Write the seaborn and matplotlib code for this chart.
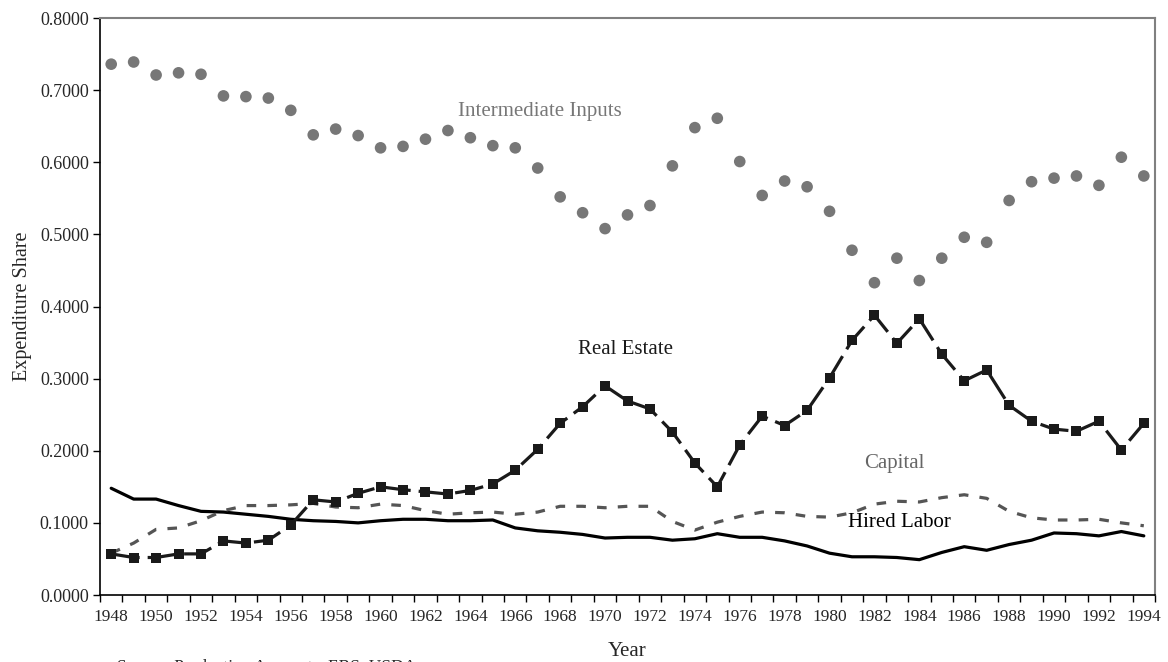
import numpy as np
import pandas as pd
import matplotlib
matplotlib.use("Agg")
import matplotlib.pyplot as plt
import seaborn as sns
from matplotlib.ticker import FixedLocator, FormatStrFormatter

years = list(range(1948, 1995))

intermediate = [0.736, 0.739, 0.721, 0.724, 0.722, 0.692, 0.691, 0.689, 0.672, 0.638,
                0.646, 0.637, 0.620, 0.622, 0.632, 0.644, 0.634, 0.623, 0.620, 0.592,
                0.552, 0.530, 0.508, 0.527, 0.540, 0.595, 0.648, 0.661, 0.601, 0.554,
                0.574, 0.566, 0.532, 0.478, 0.433, 0.467, 0.436, 0.467, 0.496, 0.489,
                0.547, 0.573, 0.578, 0.581, 0.568, 0.607, 0.581]

real_estate = [0.057, 0.052, 0.052, 0.057, 0.057, 0.075, 0.072, 0.076, 0.097, 0.132,
               0.129, 0.141, 0.150, 0.146, 0.143, 0.140, 0.145, 0.154, 0.173, 0.202,
               0.238, 0.261, 0.290, 0.269, 0.258, 0.226, 0.183, 0.150, 0.208, 0.248,
               0.235, 0.256, 0.301, 0.353, 0.388, 0.349, 0.383, 0.334, 0.297, 0.312,
               0.263, 0.241, 0.230, 0.227, 0.241, 0.201, 0.238]

capital = [0.058, 0.072, 0.091, 0.093, 0.103, 0.117, 0.124, 0.124, 0.125, 0.127,
           0.122, 0.121, 0.126, 0.124, 0.117, 0.112, 0.114, 0.115, 0.112, 0.115,
           0.123, 0.123, 0.121, 0.123, 0.123, 0.102, 0.090, 0.101, 0.109, 0.115,
           0.114, 0.109, 0.108, 0.114, 0.126, 0.130, 0.129, 0.135, 0.139, 0.134,
           0.116, 0.107, 0.104, 0.104, 0.105, 0.100, 0.096]

hired_labor = [0.148, 0.133, 0.133, 0.124, 0.116, 0.115, 0.112, 0.109, 0.105, 0.103,
               0.102, 0.100, 0.103, 0.105, 0.105, 0.103, 0.103, 0.104, 0.093, 0.089,
               0.087, 0.084, 0.079, 0.080, 0.080, 0.076, 0.078, 0.085, 0.080, 0.080,
               0.075, 0.068, 0.058, 0.053, 0.053, 0.052, 0.049, 0.059, 0.067, 0.062,
               0.070, 0.076, 0.086, 0.085, 0.082, 0.088, 0.082]

df = pd.DataFrame({"year": years, "intermediate": intermediate,
                   "real_estate": real_estate, "capital": capital,
                   "hired_labor": hired_labor})

sns.set_style("white")
plt.rcParams['font.family'] = ['Liberation Serif', 'DejaVu Serif']

fig = plt.figure(figsize=(11.68, 6.62), dpi=100)
ax = fig.add_axes([0.0856, 0.1012, 0.9033, 0.8716])

sns.lineplot(data=df, x="year", y="hired_labor", ax=ax, color="black",
             linewidth=2.3, zorder=3)
sns.lineplot(data=df, x="year", y="capital", ax=ax, color="#555555",
             linewidth=2.3, linestyle=(0, (3, 3.5)), zorder=3)
sns.lineplot(data=df, x="year", y="real_estate", ax=ax, color="#1a1a1a",
             linewidth=2.3, linestyle=(0, (9, 2.5)), marker="s",
             markersize=7.5, markeredgewidth=0, zorder=4)
sns.scatterplot(data=df, x="year", y="intermediate", ax=ax, color="#777777",
                s=70, edgecolor="none", zorder=4)

ax.set_xlim(1947.5, 1994.5)
ax.set_ylim(0, 0.8)
ax.xaxis.set_major_locator(FixedLocator(years[::2]))
ax.xaxis.set_minor_locator(FixedLocator(np.arange(1947.5, 1995, 1)))
ax.tick_params(axis="x", which="major", length=0, pad=10, labelsize=12.5)
ax.tick_params(axis="x", which="minor", length=5, width=1, direction="out",
               color="black", bottom=True)
ax.set_yticks(np.arange(0, 0.81, 0.1))
ax.yaxis.set_major_formatter(FormatStrFormatter("%.4f"))
ax.tick_params(axis="y", length=5, width=1, direction="out", color="black",
               left=True, labelsize=13, pad=3)

for side in ["left", "bottom"]:
    ax.spines[side].set_color("black")
    ax.spines[side].set_linewidth(1.2)
for side in ["top", "right"]:
    ax.spines[side].set_color("#808080")
    ax.spines[side].set_linewidth(1.5)

ax.set_xlabel("Year", fontsize=15, labelpad=12)
ax.set_ylabel("Expenditure Share", fontsize=14.5, labelpad=6)

ax.text(1967.1, 0.670, "Intermediate Inputs", color="#777777", fontsize=15,
        ha="center", va="center")
ax.text(1970.9, 0.341, "Real Estate", color="#1a1a1a", fontsize=15,
        ha="center", va="center")
ax.text(1982.9, 0.183, "Capital", color="#666666", fontsize=15,
        ha="center", va="center")
ax.text(1983.1, 0.100, "Hired Labor", color="black", fontsize=15,
        ha="center", va="center")

fig.text(0.100, 0.0045, "Source: Production Accounts, ERS, USDA", fontsize=12.5,
         ha="left", va="top")

fig.savefig("out.png", dpi=100)
